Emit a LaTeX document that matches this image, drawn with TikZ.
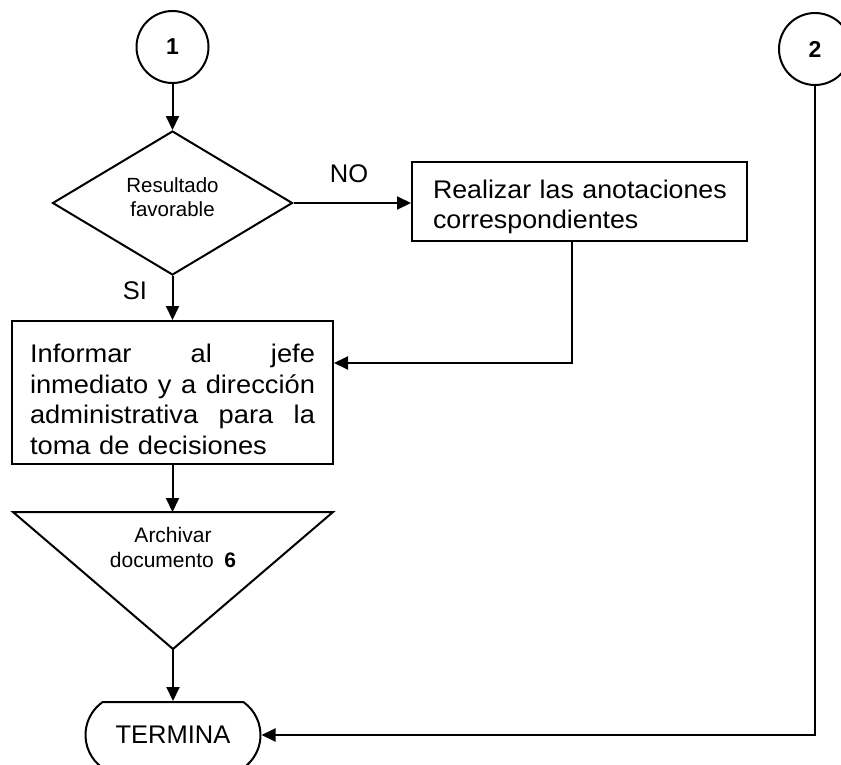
\documentclass[tikz,border=0pt]{standalone}
\usepackage{fontspec}
\setmainfont{Liberation Sans}
\newfontfamily\widefont{Liberation Sans}[FakeStretch=1.07]
\newfontfamily\semiwidefont{Liberation Sans}[FakeStretch=1.05]
\usetikzlibrary{arrows.meta,shapes.geometric,shapes.misc}
\begin{document}
\begin{tikzpicture}[x=1pt,y=-1pt,line width=2pt,
  conn/.style={-{Triangle[length=14pt,width=13pt]}},
  box/.style={draw,rectangle,inner sep=0pt},
  conncircle/.style={draw,circle,minimum size=72pt,inner sep=0pt,font=\bfseries\fontsize{23}{23}\selectfont},
  lbl/.style={font=\fontsize{25.5}{25.5}\selectfont,inner sep=0pt}]
\useasboundingbox (0,0) rectangle (841,764);
\clip (0,0) rectangle (841,764);
% nodes
\node[conncircle] (c1) at (172.5,47) {1};
\node[conncircle] (c2) at (815,49) {2};
\node[draw,diamond,minimum width=240pt,minimum height=144pt,inner sep=0pt,align=center,
  font=\fontsize{20.5}{24}\selectfont] (dec) at (172.5,203) {Resultado\\favorable\rule[-11pt]{0pt}{11pt}};
\node[box,minimum width=335pt,minimum height=79pt,text width=293pt,align=left,
  font=\semiwidefont\fontsize{25.5}{30}\selectfont] (real) at (579.5,201.5)
  {\rule{0pt}{29pt}\makebox[293pt][l]{Realizar las anotaciones}\\correspondientes};
\node[box,minimum width=321pt,minimum height=143pt,text width=285pt,align=left,
  font=\widefont\fontsize{25.5}{30.5}\selectfont] (inf) at (172.5,392.5)
  {\rule{0pt}{32pt}\makebox[285pt][l]{Informar\hfill al\hfill jefe}\\
   \makebox[285pt][l]{inmediato\hfill y\hfill a\hfill dirección}\\
   \makebox[285pt][l]{administrativa\hfill para\hfill la}\\
   toma de decisiones};
% archive triangle
\draw (13,512) -- (333,512) -- (173,649) -- cycle;
\coordinate (tritop) at (172.5,512);
\coordinate (apex) at (173,649);
\node[align=center,inner sep=0pt,font=\fontsize{21}{25}\selectfont] (archt) at (173,547)
  {Archivar\\documento\hspace{0.5em}\textbf{6}};
\node[draw,rounded rectangle,rounded rectangle arc length=110,minimum width=175pt,minimum height=66pt,
  inner sep=0pt,font=\fontsize{25.5}{25.5}\selectfont] (term) at (173,735) {TERMINA};
% labels
\node[lbl] (no) at (349,174) {NO};
\node[lbl] (si) at (135,291) {SI};
% connectors
\draw[conn] (c1.south) -- (dec.north);
\draw[conn] (dec.east) -- (dec.east -| real.west);
\draw[conn] (dec.south) -- (inf.north);
\draw[conn] ([xshift=-7.5pt]real.south) |- ([yshift=29.5pt]inf.east);
\draw[conn] (inf.south) -- (tritop);
\draw[conn] (apex) -- (term.north);
\draw[conn] (c2.south) |- (term.east);
\end{tikzpicture}
\end{document}
